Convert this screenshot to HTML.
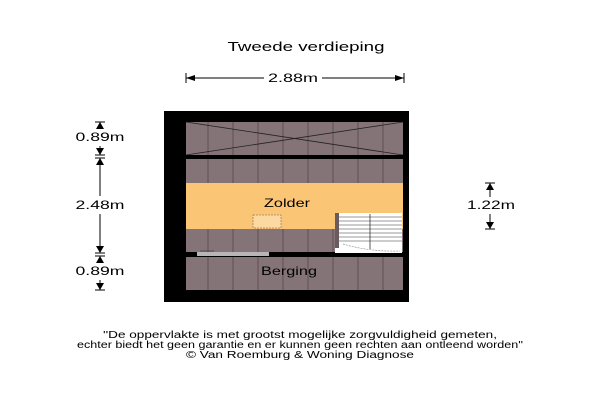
<!DOCTYPE html>
<html><head><style>html,body{margin:0;padding:0;background:#fff;}svg{display:block}</style></head>
<body>
<svg width="600" height="400" viewBox="0 0 600 400" xmlns="http://www.w3.org/2000/svg" font-family="Liberation Sans, sans-serif">
<text x="306" y="51" font-size="13" text-anchor="middle" textLength="157" lengthAdjust="spacingAndGlyphs">Tweede verdieping</text>
<!-- top dim -->
<line x1="186" y1="78" x2="264" y2="78" stroke="#000" stroke-width="1"/>
<line x1="322" y1="78" x2="404" y2="78" stroke="#000" stroke-width="1"/>
<path d="M186,78 l9,-3 v6z M404,78 l-9,-3 v6z" fill="#000"/>
<line x1="186" y1="73" x2="186" y2="83" stroke="#000"/><line x1="404" y1="73" x2="404" y2="83" stroke="#000"/>
<text x="293" y="82" font-size="12" text-anchor="middle" textLength="50" lengthAdjust="spacingAndGlyphs">2.88m</text>
<!-- walls -->
<rect x="164" y="111" width="245" height="191" fill="#000"/>
<rect x="186" y="122" width="217" height="168" fill="#847377"/>
<rect x="186" y="183" width="217" height="46" fill="#fbc576"/>
<g stroke="#5f5055" stroke-width="1">
<line x1="208" y1="122" x2="208" y2="183"/><line x1="233" y1="122" x2="233" y2="183"/><line x1="258" y1="122" x2="258" y2="183"/><line x1="283" y1="122" x2="283" y2="183"/><line x1="308" y1="122" x2="308" y2="183"/><line x1="333" y1="122" x2="333" y2="183"/><line x1="358" y1="122" x2="358" y2="183"/><line x1="383" y1="122" x2="383" y2="183"/>
<line x1="208" y1="229" x2="208" y2="290"/><line x1="233" y1="229" x2="233" y2="290"/><line x1="258" y1="229" x2="258" y2="290"/><line x1="283" y1="229" x2="283" y2="290"/><line x1="308" y1="229" x2="308" y2="290"/><line x1="333" y1="229" x2="333" y2="290"/><line x1="358" y1="257" x2="358" y2="290"/><line x1="383" y1="257" x2="383" y2="290"/>
</g>
<line x1="186" y1="122" x2="403" y2="155" stroke="#222" stroke-width="0.8"/>
<line x1="403" y1="122" x2="186" y2="155" stroke="#222" stroke-width="0.8"/>
<rect x="186" y="155" width="217" height="4" fill="#000"/>
<rect x="186" y="252" width="217" height="5" fill="#000"/>
<rect x="197" y="252" width="72" height="4" fill="#b9b4b5"/>
<line x1="200" y1="251" x2="214" y2="251" stroke="#333" stroke-width="0.6"/>
<rect x="253" y="215" width="28" height="13" fill="#fbd9a0" stroke="#a0806a" stroke-dasharray="2,1" stroke-width="0.8"/>
<!-- stairs -->
<rect x="335" y="213" width="67" height="40" fill="#fff"/>
<rect x="335" y="213" width="4" height="35" fill="#6a5c5e"/>
<g stroke="#777" stroke-width="0.8">
<line x1="339" y1="217" x2="402" y2="217"/><line x1="339" y1="221" x2="402" y2="221"/><line x1="339" y1="225" x2="402" y2="225"/><line x1="339" y1="229" x2="402" y2="229"/><line x1="339" y1="233" x2="402" y2="233"/><line x1="339" y1="237" x2="402" y2="237"/><line x1="339" y1="241" x2="402" y2="241"/>
</g>
<line x1="370" y1="214" x2="370" y2="249" stroke="#333" stroke-width="0.8"/>
<path d="M343,244 Q370,252 400,251" stroke="#999" fill="none" stroke-dasharray="2,1" stroke-width="0.7"/>
<text x="287" y="207" font-size="12" text-anchor="middle" textLength="46" lengthAdjust="spacingAndGlyphs">Zolder</text>
<text x="289" y="275" font-size="12" text-anchor="middle" textLength="56" lengthAdjust="spacingAndGlyphs">Berging</text>
<!-- left dims -->
<g stroke="#000" stroke-width="1">
<line x1="100" y1="122" x2="100" y2="128"/><line x1="100" y1="146" x2="100" y2="155"/>
<line x1="100" y1="160" x2="100" y2="196"/><line x1="100" y1="214" x2="100" y2="252"/>
<line x1="100" y1="257" x2="100" y2="263"/><line x1="100" y1="280" x2="100" y2="290"/>
<line x1="95" y1="122" x2="105" y2="122"/><line x1="95" y1="155" x2="105" y2="155"/><line x1="95" y1="158" x2="105" y2="158"/><line x1="95" y1="253" x2="105" y2="253"/><line x1="95" y1="256" x2="105" y2="256"/><line x1="95" y1="290" x2="105" y2="290"/>
</g>
<path d="M100,122 l-4,7 h8z M100,155 l-4,-7 h8z M100,158 l-4,7 h8z M100,253 l-4,-7 h8z M100,256 l-4,7 h8z M100,290 l-4,-7 h8z" fill="#000"/>
<text x="100" y="141" font-size="12" text-anchor="middle" textLength="49" lengthAdjust="spacingAndGlyphs">0.89m</text>
<text x="100" y="209" font-size="12" text-anchor="middle" textLength="49" lengthAdjust="spacingAndGlyphs">2.48m</text>
<text x="100" y="275" font-size="12" text-anchor="middle" textLength="49" lengthAdjust="spacingAndGlyphs">0.89m</text>
<!-- right dim -->
<line x1="490" y1="183" x2="490" y2="197" stroke="#000"/><line x1="490" y1="214" x2="490" y2="229" stroke="#000"/>
<line x1="485" y1="183" x2="495" y2="183" stroke="#000"/><line x1="485" y1="229" x2="495" y2="229" stroke="#000"/>
<path d="M490,183 l-4,7 h8z M490,229 l-4,-7 h8z" fill="#000"/>
<text x="491" y="209" font-size="12" text-anchor="middle" textLength="48" lengthAdjust="spacingAndGlyphs">1.22m</text>
<!-- footer -->
<text x="300" y="338" font-size="10" text-anchor="middle" textLength="394" lengthAdjust="spacingAndGlyphs">''De oppervlakte is met grootst mogelijke zorgvuldigheid gemeten,</text>
<text x="300" y="348" font-size="10" text-anchor="middle" textLength="446" lengthAdjust="spacingAndGlyphs">echter biedt het geen garantie en er kunnen geen rechten aan ontleend worden''</text>
<text x="300" y="358" font-size="10" text-anchor="middle" textLength="228" lengthAdjust="spacingAndGlyphs">© Van Roemburg &amp; Woning Diagnose</text>
</svg>
</body></html>
